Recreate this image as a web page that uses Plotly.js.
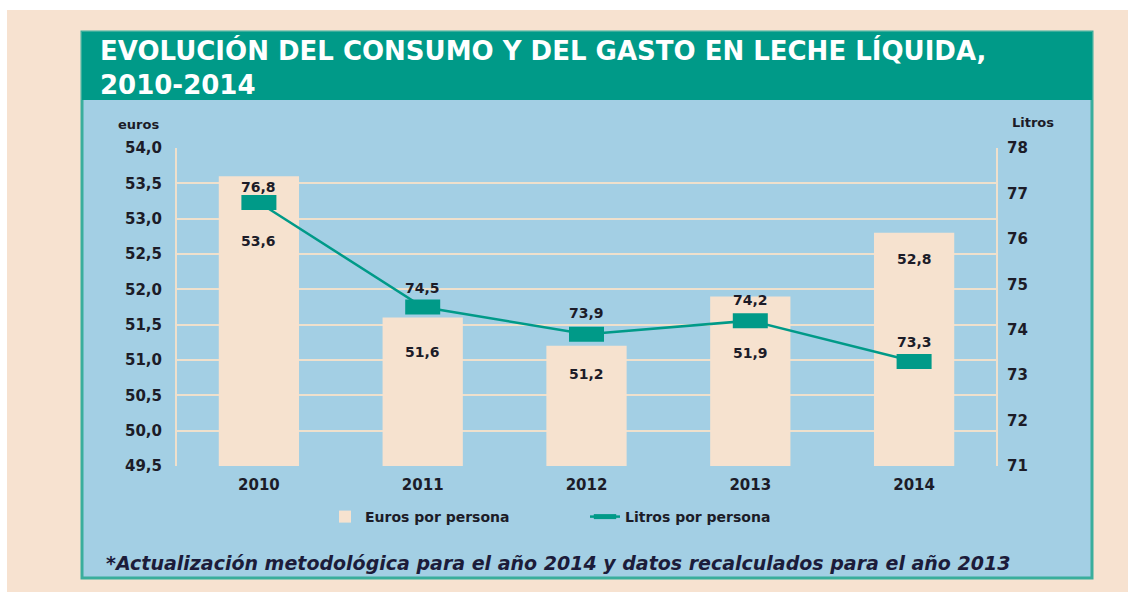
<!DOCTYPE html>
<html>
<head>
<meta charset="utf-8">
<script src="https://cdn.plot.ly/plotly-3.0.1.min.js"></script>
<style>
html,body{margin:0;padding:0;background:#fff;}
#chart{width:1128px;height:592px;}
</style>
</head>
<body>
<div id="chart"></div>
<script>
// ---- data ----
const years = [2010, 2011, 2012, 2013, 2014];
const yearLabels = ['2010', '2011', '2012', '2013', '2014'];
const eurosPorPersona = [53.6, 51.6, 51.2, 51.9, 52.8];
const litrosPorPersona = [76.8, 74.5, 73.9, 74.2, 73.3];
const eurosTicks = [49.5, 50.0, 50.5, 51.0, 51.5, 52.0, 52.5, 53.0, 53.5, 54.0];
const litrosTicks = [71, 72, 73, 74, 75, 76, 77, 78];

// ---- styles ----
const TEAL = '#009a88';
const BLUE = '#a3cfe4';
const PEACH = '#f7e2d0';
const BAR = '#f6e2cf';
const GRID = '#efe0cc';
const INK = '#1c1c28';
const FONT = 'DejaVu Sans, Verdana, sans-serif';
const fmt = v => v.toFixed(1).replace('.', ',');
// vertical offsets (px) of value labels relative to their marks
const barLabelOffsets = [65, 34, 28, 57, 26];
const lineLabelOffsets = [16, 19, 21, 21, 20];

const bars = {
  type: 'bar', name: 'Euros por persona',
  x: years, y: eurosPorPersona, width: 0.49,
  marker: {color: BAR, line: {width: 0}},
  hoverinfo: 'x+y', yaxis: 'y'
};
const line = {
  type: 'scatter', mode: 'lines+markers', name: 'Litros por persona',
  x: years, y: litrosPorPersona, yaxis: 'y2',
  line: {color: TEAL, width: 2.5},
  marker: {symbol: 'line-ew', size: 25, color: TEAL, line: {color: TEAL, width: 15}},
  cliponaxis: false
};

const labelFont = {family: FONT, size: 14, color: INK, weight: 'bold'};
const annotations = eurosPorPersona.map((v, i) => ({
  x: years[i], y: v, xref: 'x', yref: 'y', text: fmt(v), showarrow: false,
  xanchor: 'center', yanchor: 'middle', yshift: -barLabelOffsets[i], font: labelFont
})).concat(litrosPorPersona.map((v, i) => ({
  x: years[i], y: v, xref: 'x', yref: 'y2', text: fmt(v), showarrow: false,
  xanchor: 'center', yanchor: 'middle', yshift: lineLabelOffsets[i], font: labelFont
})));
annotations.push(
  {xref: 'paper', yref: 'paper', x: (138 - 177) / 819, y: (466 - 124) / 318, text: 'euros',
   xanchor: 'center', yanchor: 'middle',
   showarrow: false, font: {family: FONT, size: 13, color: INK, weight: 'bold'}},
  {xref: 'paper', yref: 'paper', x: (1033 - 177) / 819, y: (466 - 122) / 318, text: 'Litros',
   xanchor: 'center', yanchor: 'middle',
   showarrow: false, font: {family: FONT, size: 13, color: INK, weight: 'bold'}},
  {xref: 'paper', yref: 'paper', x: (104 - 177) / 819, xanchor: 'left', y: (466 - 563) / 318,
   yanchor: 'middle',
   text: '*Actualización metodológica para el año 2014 y datos recalculados para el año 2013',
   showarrow: false, font: {family: FONT, size: 19, color: '#1c1c3a', weight: 'bold', style: 'italic'}}
);

const layout = {
  width: 1128, height: 592,
  margin: {l: 177, r: 132, t: 148, b: 126},
  paper_bgcolor: '#ffffff', plot_bgcolor: 'rgba(0,0,0,0)',
  separators: ',.',
  showlegend: true,
  title: {
    text: 'EVOLUCIÓN DEL CONSUMO Y DEL GASTO EN LECHE LÍQUIDA,<br>2010-2014',
    xref: 'container', yref: 'container', x: 100 / 1128, xanchor: 'left',
    y: 1 - 60 / 592, yanchor: 'top',
    font: {family: FONT, size: 26, color: '#ffffff', weight: 'bold'}
  },
  xaxis: {
    range: [2009.5, 2014.5], tickvals: years, ticktext: yearLabels,
    showgrid: false, zeroline: false, showline: false,
    ticks: '', tickfont: {family: FONT, size: 15, color: INK, weight: 'bold'},
    ticklabelstandoff: 8
  },
  yaxis: {
    range: [49.5, 54], tickvals: eurosTicks, tickformat: '.1f',
    showgrid: true, gridcolor: GRID, gridwidth: 2, zeroline: false,
    showline: true, mirror: true, linecolor: GRID, linewidth: 2,
    ticks: '', tickfont: {family: FONT, size: 15, color: INK, weight: 'bold'},
    ticklabelstandoff: 10
  },
  yaxis2: {
    range: [71, 78], tickvals: litrosTicks, overlaying: 'y', side: 'right',
    showgrid: false, zeroline: false, showline: false,
    ticks: '', tickfont: {family: FONT, size: 15, color: INK, weight: 'bold'},
    ticklabelstandoff: 10
  },
  legend: {
    orientation: 'h', xref: 'paper', yref: 'paper',
    x: (325 - 177) / 819, xanchor: 'left', y: (466 - 517) / 318, yanchor: 'middle',
    bgcolor: 'rgba(0,0,0,0)', traceorder: 'normal',
    entrywidth: 215, font: {family: FONT, size: 14, color: INK, weight: 'bold'}
  },
  annotations: annotations,
  shapes: [
    {type: 'rect', xref: 'paper', yref: 'paper', layer: 'below',
     x0: (7 - 177) / 819, x1: (1128 - 177) / 819, y0: (466 - 592) / 318, y1: (466 - 10) / 318,
     fillcolor: PEACH, line: {width: 0}},
    {type: 'rect', xref: 'paper', yref: 'paper', layer: 'below',
     x0: (82 - 177) / 819, x1: (1092 - 177) / 819, y0: (466 - 578) / 318, y1: (466 - 32) / 318,
     fillcolor: BLUE, line: {color: '#3aae9c', width: 3}},
    {type: 'rect', xref: 'paper', yref: 'paper', layer: 'below',
     x0: (82 - 177) / 819, x1: (1092 - 177) / 819, y0: (466 - 100) / 318, y1: (466 - 32) / 318,
     fillcolor: TEAL, line: {width: 0}}
  ]
};

Plotly.newPlot('chart', [bars, line], layout, {displayModeBar: false, staticPlot: true});
</script>
</body>
</html>
